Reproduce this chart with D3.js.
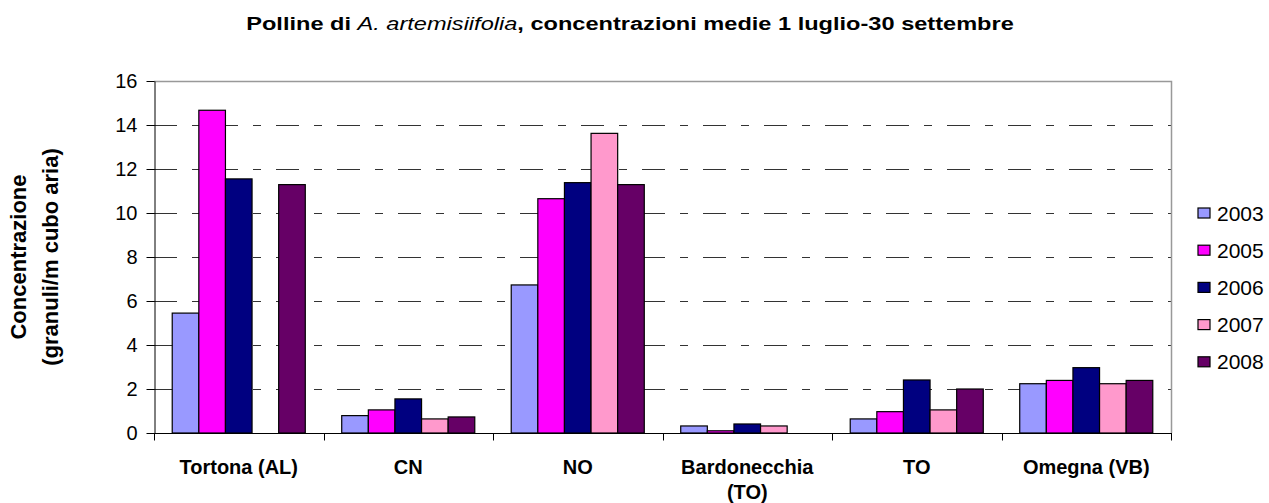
<!DOCTYPE html>
<html>
<head>
<meta charset="utf-8">
<script src="https://cdn.jsdelivr.net/npm/d3@7"></script>
<style>
  body { margin: 0; background: #fff; }
  svg { display: block; font-family: "Liberation Sans", Arial, sans-serif; }
</style>
</head>
<body>
<svg id="chart" width="1269" height="503"></svg>
<script>
// stations and years (null = no bar)
const stations = ["Tortona (AL)", "CN", "NO", "Bardonecchia|(TO)", "TO", "Omegna (VB)"];
const years = ["2003", "2005", "2006", "2007", "2008"];
const colors = ["#9999FF", "#FF00FF", "#000080", "#FF99CC", "#660066"];
const v2003 = [5.45, 0.79, 6.73, 0.32, 0.64, 2.24];
const v2005 = [14.67, 1.05, 10.65, 0.10, 0.97, 2.39];
const v2006 = [11.55, 1.55, 11.38, 0.41, 2.41, 2.97];
const v2007 = [null, 0.64, 13.62, 0.32, 1.05, 2.24];
const v2008 = [11.29, 0.73, 11.29, null, 2.00, 2.39];
const yTicks = [0, 2, 4, 6, 8, 10, 12, 14, 16];

const series = [v2003, v2005, v2006, v2007, v2008];

const svg = d3.select('#chart');
const plot = { left: 154, right: 1171, top: 81, bottom: 433 };

const x0 = d3.scaleBand().domain(stations).range([plot.left, plot.right]).paddingInner(0).paddingOuter(0);
const gap = x0.bandwidth() * 0.215;
const x1 = d3.scaleBand().domain(years).range([gap / 2, x0.bandwidth() - gap / 2]);
const y = d3.scaleLinear().domain([0, 16]).range([plot.bottom, plot.top]);

// title (reference is horizontally stretched, so squeeze the height / widen the run)
const title = svg.append('text')
  .attr('transform', 'translate(630,30) scale(1.31,1)')
  .attr('text-anchor', 'middle')
  .attr('font-size', 18).attr('font-weight', 'bold');
title.append('tspan').text('Polline di ');
title.append('tspan').attr('font-style', 'italic').attr('font-weight', 'normal').text('A. artemisiifolia');
title.append('tspan').text(', concentrazioni medie 1 luglio-30 settembre');

// gridlines
svg.append('g')
  .selectAll('line')
  .data(yTicks.filter(t => t > 0 && t < 16))
  .join('line')
    .attr('x1', plot.left).attr('x2', plot.right)
    .attr('y1', d => Math.round(y(d)) + 0.5).attr('y2', d => Math.round(y(d)) + 0.5)
    .attr('stroke', '#333').attr('stroke-width', 1)
    .attr('stroke-dasharray', '23,15,8,15');

// plot border (top/right)
svg.append('path')
  .attr('d', `M${plot.left},${plot.top + 0.5} H${plot.right + 0.5} V${plot.bottom}`)
  .attr('fill', 'none').attr('stroke', '#999').attr('stroke-width', 1.5);

// bars
const groups = svg.append('g')
  .selectAll('g')
  .data(stations)
  .join('g')
    .attr('transform', d => `translate(${x0(d)},0)`);

groups.selectAll('rect')
  .data((d, i) => years.map((yr, j) => ({ yr, c: colors[j], v: series[j][i] })).filter(b => b.v != null))
  .join('rect')
    .attr('x', d => x1(d.yr))
    .attr('y', d => y(d.v))
    .attr('width', x1.bandwidth())
    .attr('height', d => y(0) - y(d.v))
    .attr('fill', d => d.c)
    .attr('stroke', '#000').attr('stroke-width', 1.2);

// y axis
const yAxis = svg.append('g')
  .attr('transform', `translate(${plot.left + 0.5},0)`)
  .call(d3.axisLeft(y).tickValues(yTicks).tickSize(8).tickPadding(9).tickSizeOuter(0));
yAxis.select('.domain').attr('stroke', '#000');
yAxis.selectAll('.tick line').attr('stroke', '#000');
yAxis.selectAll('.tick text').attr('font-size', 20).attr('font-family', '"Liberation Sans", Arial, sans-serif').attr('fill', '#000');

// x axis
const xAxis = svg.append('g')
  .attr('transform', `translate(0,${plot.bottom + 0.5})`);
xAxis.append('line')
  .attr('x1', plot.left).attr('x2', plot.right + 1)
  .attr('stroke', '#000');
xAxis.selectAll('line.tk')
  .data(d3.range(stations.length + 1))
  .join('line')
    .attr('class', 'tk')
    .attr('x1', i => Math.round(plot.left + i * x0.step()) + 0.5)
    .attr('x2', i => Math.round(plot.left + i * x0.step()) + 0.5)
    .attr('y1', 0).attr('y2', 7)
    .attr('stroke', '#000');

const xl = xAxis.selectAll('text')
  .data(stations)
  .join('text')
    .attr('x', d => x0(d) + x0.bandwidth() / 2)
    .attr('y', 40)
    .attr('text-anchor', 'middle')
    .attr('font-size', 20).attr('font-weight', 'bold');
xl.each(function (d) {
  d.split('|').forEach((part, k) => {
    d3.select(this).append('tspan')
      .attr('x', x0(d) + x0.bandwidth() / 2)
      .attr('dy', k === 0 ? 0 : 25)
      .text(part);
  });
});

// y title
const yt = svg.append('text')
  .attr('transform', `translate(26,${(plot.top + plot.bottom) / 2}) rotate(-90)`)
  .attr('text-anchor', 'middle')
  .attr('font-size', 22).attr('font-weight', 'bold');
yt.append('tspan').attr('x', 0).attr('dy', 0).text('Concentrazione');
yt.append('tspan').attr('x', 0).attr('dy', 32).text('(granuli/m cubo aria)');

// legend
const legend = svg.append('g')
  .selectAll('g')
  .data(years)
  .join('g')
    .attr('transform', (d, i) => `translate(1198,${213 + i * 37.2})`);
legend.append('rect')
  .attr('x', 0).attr('y', -5).attr('width', 12).attr('height', 10)
  .attr('fill', (d, i) => colors[i])
  .attr('stroke', '#000').attr('stroke-width', 1.2);
legend.append('text')
  .attr('x', 19).attr('y', 7.5)
  .attr('font-size', 21)
  .text(d => d);
</script>
</body>
</html>
